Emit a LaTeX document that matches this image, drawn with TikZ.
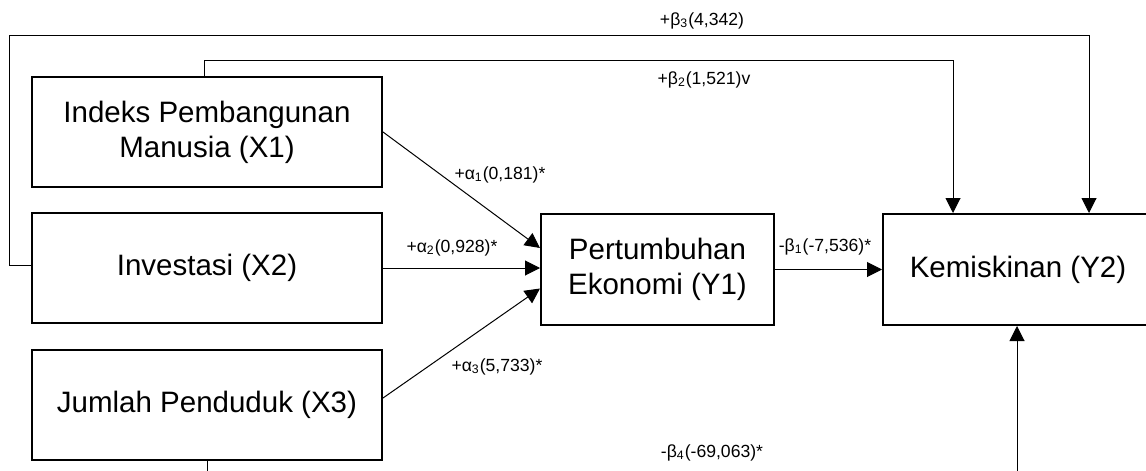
\documentclass[tikz,border=0pt]{standalone}
\usepackage{fontspec}
\setmainfont{Liberation Sans}
\usetikzlibrary{arrows.meta,calc}
\begin{document}
\begin{tikzpicture}[x=0.5pt,y=-0.5pt,
    var/.style={draw,line width=1pt,inner sep=2pt,align=center,
      font=\fontsize{14.75pt}{17.5pt}\selectfont},
    lbl/.style={inner sep=0pt,font=\fontsize{8.8pt}{10.5pt}\selectfont},
    link/.style={line width=0.5pt,-{Triangle[length=7.5pt,width=7.5pt]}}]
    \path[use as bounding box,clip] (0,0) rectangle (1146,471);
    % variables
    \node[var,minimum width=175pt,minimum height=55pt] (X1) at (207,132) {Indeks Pembangunan\\Manusia (X1)};
    \node[var,minimum width=175pt,minimum height=55pt] (X2) at (207,268) {Investasi (X2)};
    \node[var,minimum width=175pt,minimum height=55pt] (X3) at (207,405) {Jumlah Penduduk (X3)};
    \node[var,minimum width=116.5pt,minimum height=55.5pt] (Y1) at (657.5,269.5) {Pertumbuhan\\Ekonomi (Y1)};
    \node[var,minimum width=135pt,minimum height=55.5pt] (Y2) at (1018,269.5) {Kemiskinan (Y2)};
    \coordinate (loopL) at (9.5,35);
    % paths
    \draw[link] (X1.east) -- ($(Y1.west)+(0,-21.5)$);
    \draw[link] (X2.east) -- (X2.east -| Y1.west);
    \draw[link] ($(X3.east)+(0,-7)$) -- ($(Y1.west)+(0,19)$);
    \draw[link] (Y1.east) -- (Y1.east -| Y2.west);
    \draw[link] ($(X1.north)+(-3,0)$) -- ++(0,-16) -| ($(Y2.north)+(-65,0)$);
    \draw[link] ($(X2.west)+(0,-3)$) -| (loopL) -| ($(Y2.north)+(71,0)$);
    \draw[link] (X3.south) -- ++(0,40) -| ($(Y2.south)+(-1,0)$);
    % coefficients
    \node[lbl] (a1) at (500,175) {+α\textsubscript{1}(0,181)*};
    \node[lbl] (a2) at (452,248) {+α\textsubscript{2}(0,928)*};
    \node[lbl] (a3) at (497,367) {+α\textsubscript{3}(5,733)*};
    \node[lbl] (b1) at (825,247) {-β\textsubscript{1}(-7,536)*};
    \node[lbl] (b2) at (704,80) {+β\textsubscript{2}(1,521)v};
    \node[lbl] (b3) at (702,21) {+β\textsubscript{3}(4,342)};
    \node[lbl] (b4) at (712,453) {-β\textsubscript{4}(-69,063)*};
\end{tikzpicture}
\end{document}
